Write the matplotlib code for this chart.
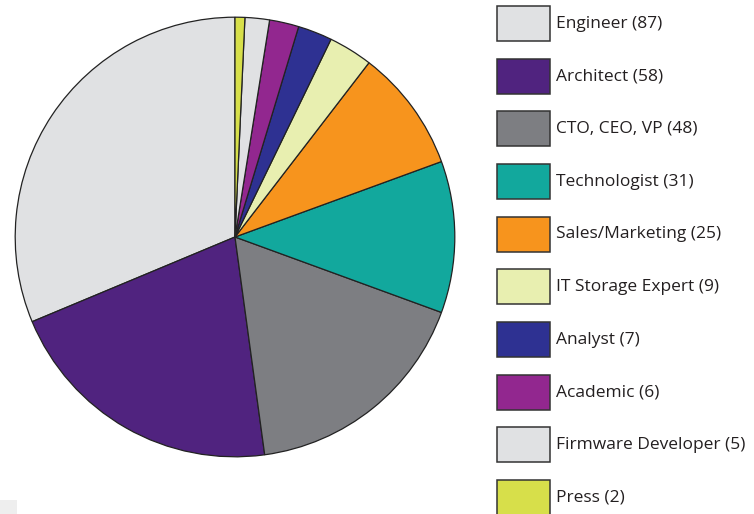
import matplotlib
matplotlib.use("Agg")
from matplotlib import pyplot as plt
from matplotlib.patches import Rectangle

labels = ["Engineer", "Architect", "CTO, CEO, VP", "Technologist", "Sales/Marketing",
          "IT Storage Expert", "Analyst", "Academic", "Firmware Developer", "Press"]
counts = [87, 58, 48, 31, 25, 9, 7, 6, 5, 2]
colors = ["#e0e1e3", "#50237f", "#7d7e82", "#12a89d", "#f7941d",
          "#e8efb0", "#2e3192", "#92278f", "#e0e1e3", "#d7df4a"]

W, H = 754, 514
fig = plt.figure(figsize=(W / 100, H / 100), dpi=100)

# pie axes placed in pixel terms
cx, cy, r = 235, 237, 222
ax = fig.add_axes([(cx - r) / W, (H - cy - r) / H, 2 * r / W, 2 * r / H])
ax.pie(counts, colors=colors, startangle=90, counterclock=True,
       wedgeprops={"edgecolor": "#222222", "linewidth": 0.9})
ax.set_xlim(-1.01, 1.01)
ax.set_ylim(-1.01, 1.01)
ax.set_aspect("equal")
ax.axis("off")

# legend, drawn by hand
x0, top0, bw, bh, step = 497, 6, 53, 35, 52.67
for i, (lab, n, c) in enumerate(zip(labels, counts, colors)):
    top = top0 + i * step
    fig.patches.append(Rectangle((x0 / W, (H - top - bh) / H), bw / W, bh / H,
                                 transform=fig.transFigure, facecolor=c,
                                 edgecolor="#333333", linewidth=1.1))
    fig.text((x0 + bw + 6) / W, (H - top - bh / 2) / H, f"{lab} ({n})",
             fontsize=12.5, family="Open Sans", color="#231f20",
             va="center", ha="left")

# small grey patch at bottom left corner
fig.patches.append(Rectangle((0, 0), 17 / W, 14 / H, transform=fig.transFigure,
                             facecolor="#eeeeee", edgecolor="none"))

fig.savefig("out.png", dpi=100)
